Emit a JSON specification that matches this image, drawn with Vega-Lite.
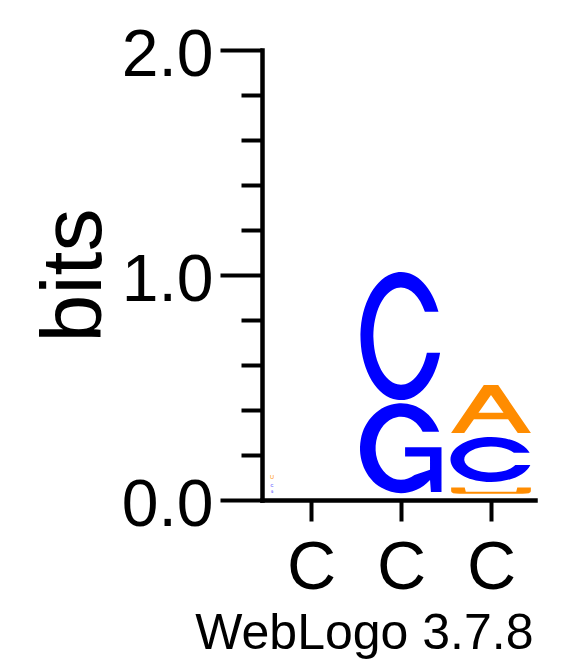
{
  "$schema": "https://vega.github.io/schema/vega-lite/v6.json",
  "width": 273,
  "height": 450,
  "autosize": "none",
  "padding": {"left": 262, "top": 50, "right": 48, "bottom": 167},
  "background": "white",
  "config": {"view": {"stroke": null}, "font": "Liberation Sans"},
  "datasets": {
    "glyphs": [
      {"pos": 2, "letter": "G", "id": "2G", "y0": 0.030, "bits": 0.400},
      {"pos": 2, "letter": "C", "id": "2C", "y0": 0.444, "bits": 0.569},
      {"pos": 3, "letter": "U", "id": "3U", "y0": 0.028, "bits": 0.028},
      {"pos": 3, "letter": "C", "id": "3C", "y0": 0.080, "bits": 0.200},
      {"pos": 3, "letter": "A", "id": "3A", "y0": 0.298, "bits": 0.213}
    ],
    "tiny": [
      {"pos": 1, "letter": "U", "y0": 0.093, "bits": 0.018},
      {"pos": 1, "letter": "C", "y0": 0.058, "bits": 0.013},
      {"pos": 1, "letter": "G", "y0": 0.032, "bits": 0.009}
    ]
  },
  "layer": [
    {
      "data": {"name": "glyphs"},
      "mark": {"type": "point", "filled": true, "opacity": 1, "strokeWidth": 0},
      "encoding": {
        "x": {
          "field": "pos", "type": "quantitative",
          "scale": {"domain": [0.4556, 3.4889], "nice": false, "zero": false},
          "axis": {
            "values": [1, 2, 3], "labelExpr": "'C'", "grid": false,
            "tickSize": 21, "tickWidth": 4, "tickColor": "black",
            "domainWidth": 4.5, "domainColor": "black", "domainCap": "square",
            "labelFontSize": 68, "labelFont": "Liberation Sans", "labelColor": "black",
            "labelPadding": 13, "labelFlush": false, "labelOverlap": false,
            "title": "WebLogo 3.7.8", "titleFontSize": 50, "titleFont": "Liberation Sans",
            "titleFontWeight": "normal", "titleColor": "black",
            "titleAnchor": "end", "titleAlign": "right", "titleBaseline": "alphabetic",
            "titleX": 271, "titleY": 148
          }
        },
        "y": {
          "field": "y0", "type": "quantitative",
          "scale": {"domain": [0, 2], "nice": false, "zero": true},
          "axis": {
            "values": [0, 1, 2], "format": ".1f", "grid": false,
            "tickSize": 42, "tickWidth": 4, "tickColor": "black",
            "domainWidth": 4.5, "domainColor": "black", "domainCap": "square",
            "labelFontSize": 66, "labelFont": "Liberation Sans", "labelColor": "black",
            "labelPadding": 7, "labelOffset": 5, "labelFlush": false, "labelOverlap": false,
            "title": "bits", "titleFontSize": 86, "titleFont": "Liberation Sans",
            "titleFontWeight": "normal", "titleColor": "black",
            "titleBaseline": "alphabetic", "titleAlign": "center",
            "titleX": -162, "titleY": 225
          }
        },
        "size": {
          "field": "bits", "type": "quantitative",
          "scale": {"type": "pow", "exponent": 2, "domain": [0, 2], "range": [0, 202500]},
          "legend": null
        },
        "shape": {
          "field": "id", "type": "nominal",
          "scale": {
            "domain": ["2G", "2C", "3U", "3C", "3A"],
            "range": [
              "M0.8472,-1.368 A0.9111,1 0 1 0 0.645,-0.2937 L0.665,-0.03 L0.9,-0.03 L0.9,-1.022 L0.0911,-1.022 L0.0911,-0.814 L0.645,-0.814 L0.645,-0.52 L0.3,-0.407 A0.5649,0.7 0 1 1 0.4805,-1.368 Z",
              "M0.5853,-1.38 A0.6328,1 0 1 0 0.611,-0.74 L0.4043,-0.74 A0.4303,0.76 0 1 1 0.3727,-1.38 Z",
              "M-12.65,-2 L-8.35,-2 L-8,-0.6 L8,-0.6 L8.35,-2 L12.65,-2 L12.65,-0.8 Q12.65,0 10,0 L-10,0 Q-12.65,0 -12.65,-0.8 Z",
              "M1.717,-1.3 A1.8,1 0 1 0 1.7474,-0.76 L1.0815,-0.76 A1.188,0.58 0 1 1 1.0167,-1.3 Z",
              "M-1.6667,0 L-0.3,-2 L0.3,-2 L1.6667,0 L1.1167,0 L0.7133,-0.57 L-0.7133,-0.57 L-1.1167,0 Z M-0.5233,-0.84 L0.5233,-0.84 L0,-1.58 Z"
            ]
          },
          "legend": null
        },
        "color": {
          "field": "letter", "type": "nominal",
          "scale": {"domain": ["A", "C", "G", "U"], "range": ["#ff8c00", "#0000ff", "#0000ff", "#ff8c00"]},
          "legend": null
        }
      }
    },
    {
      "data": {"name": "tiny"},
      "mark": {"type": "text", "dx": -39, "baseline": "alphabetic", "align": "center", "font": "Liberation Sans"},
      "encoding": {
        "x": {
          "field": "pos", "type": "quantitative",
          "axis": {
            "values": [1, 2, 3], "labelExpr": "'C'", "grid": false,
            "tickSize": 21, "tickWidth": 4, "tickColor": "black",
            "domainWidth": 4.5, "domainColor": "black", "domainCap": "square",
            "labelFontSize": 68, "labelFont": "Liberation Sans", "labelColor": "black",
            "labelPadding": 13, "labelFlush": false, "labelOverlap": false,
            "title": "WebLogo 3.7.8", "titleFontSize": 50, "titleFont": "Liberation Sans",
            "titleFontWeight": "normal", "titleColor": "black",
            "titleAnchor": "end", "titleAlign": "right", "titleBaseline": "alphabetic",
            "titleX": 271, "titleY": 148
          }
        },
        "y": {
          "field": "y0", "type": "quantitative",
          "axis": {
            "orient": "left", "values": [0.2, 0.4, 0.6, 0.8, 1.2, 1.4, 1.6, 1.8],
            "tickSize": 21, "tickWidth": 4, "tickColor": "black",
            "labels": false, "domain": false, "grid": false, "title": null
          }
        },
        "text": {"field": "letter"},
        "size": {
          "field": "bits", "type": "quantitative",
          "scale": {"domain": [0, 2], "range": [0, 625]},
          "legend": null
        },
        "color": {"field": "letter", "type": "nominal", "legend": null}
      }
    }
  ],
  "resolve": {"axis": {"y": "independent"}, "scale": {"size": "independent"}}
}
